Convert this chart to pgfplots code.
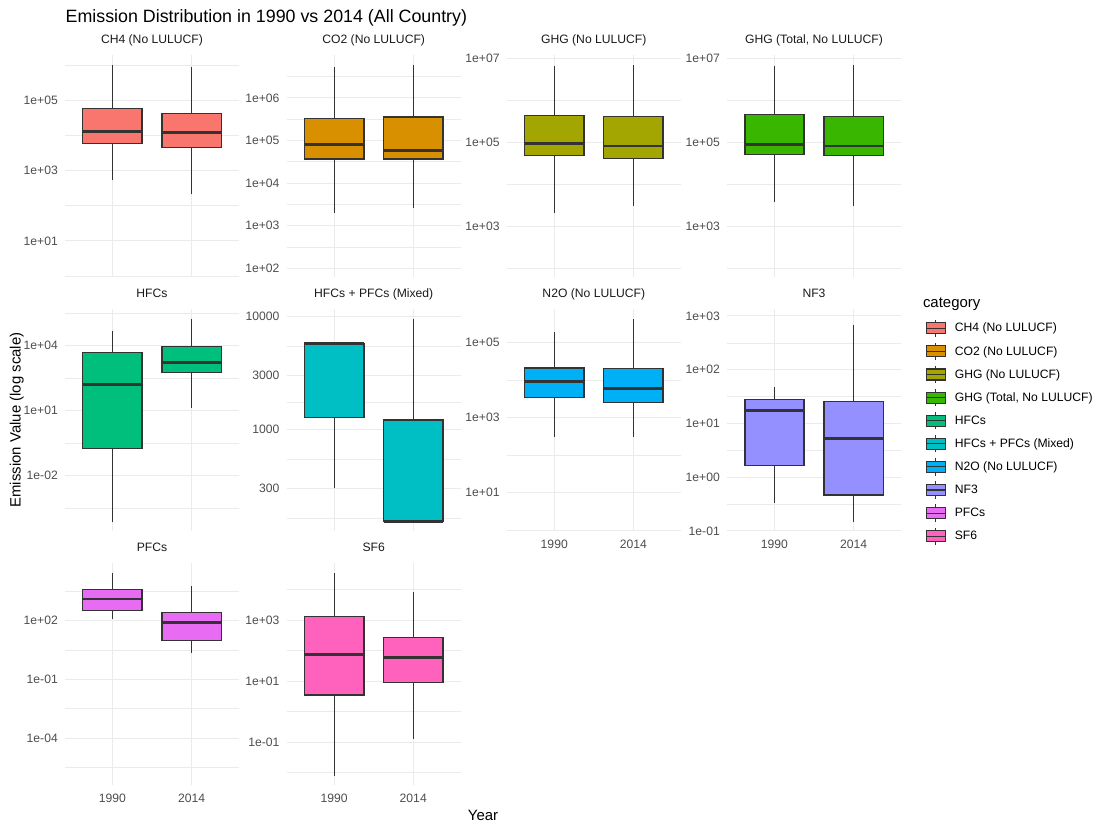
\documentclass[border=0pt]{standalone}
\usepackage{fontspec}
\setmainfont{Liberation Sans}
\usepackage{pgfplots}
\pgfplotsset{compat=1.18}
\usepgfplotslibrary{statistics}

\definecolor{cCH4}{HTML}{F8766D}
\definecolor{cCO2}{HTML}{D89000}
\definecolor{cGHG}{HTML}{A3A500}
\definecolor{cGHGT}{HTML}{39B600}
\definecolor{cHFC}{HTML}{00BF7D}
\definecolor{cMix}{HTML}{00BFC4}
\definecolor{cN2O}{HTML}{00B0F6}
\definecolor{cNF3}{HTML}{9590FF}
\definecolor{cPFC}{HTML}{E76BF3}
\definecolor{cSF6}{HTML}{FF62BC}
\definecolor{cBox}{HTML}{333333}
\definecolor{cGrid}{HTML}{EBEBEB}
\definecolor{cTick}{HTML}{4D4D4D}
\definecolor{cStrip}{HTML}{1A1A1A}

\newcommand{\tickfont}{\fontsize{12.2}{14}\selectfont}

\pgfplotsset{
  every axis/.append style={
    width=174bp, height=222bp, scale only axis,
    xmin=0.4, xmax=2.6,
    xtick={1,2},
    xmajorgrids, ymajorgrids, yminorgrids,
    major grid style={line width=1bp, color=cGrid},
    minor grid style={line width=0.6bp, color=cGrid},
    major tick length=0pt, minor tick length=0pt,
    axis line style={draw=none},
    yticklabel style={font=\tickfont, text=cTick, inner sep=0pt, anchor=east, xshift=-7bp},
    xticklabel style={font=\tickfont, text=cTick, inner sep=0pt, anchor=north, yshift=-9bp},
    title style={at={(0.5,1)}, anchor=base, yshift=6bp, inner sep=0pt, font=\tickfont, text=cStrip},
  },
  myBoxKey/.style={legend image code/.code={
    \path[draw=none, fill=none] (0bp,-11.55bp) rectangle (28.3bp,11.55bp);
    \draw[draw=cBox, line width=1.1bp] (9.35bp,-8.65bp) -- (9.35bp,8.65bp);
    \draw[draw=cBox, fill=#1, line width=1.1bp] (0bp,-5.5bp) rectangle (18.7bp,5.5bp);
    \draw[draw=cBox, line width=1.1bp] (0bp,0bp) -- (18.7bp,0bp);
  }},
}

\begin{document}
\begin{tikzpicture}
\useasboundingbox (0,0) rectangle (1100bp,831bp);

% ---------- Row 1 ----------
\begin{axis}[ymode=log, anchor=south west, at={(65bp,554bp)}, title={CH4 (No LULUCF)},
  xticklabels={{},{}},
  ymin=0.933, ymax=1.995e6,
  ytick={10,1000,100000}, yticklabels={1e+01,1e+03,1e+05},
  minor ytick={1,100,10000,1000000}]
\addplot[forget plot, draw=cBox, line width=1.4bp, fill=cCH4, boxplot/every median/.style={line width=2.8bp}, boxplot/every whisker/.style={line width=1.1bp}, boxplot prepared={draw direction=y, box extend=0.75, whisker extend=0, draw position=1, lower whisker=537, lower quartile=5888, median=13183, upper quartile=58884, upper whisker=1047000}] coordinates {};
\addplot[forget plot, draw=cBox, line width=1.4bp, fill=cCH4, boxplot/every median/.style={line width=2.8bp}, boxplot/every whisker/.style={line width=1.1bp}, boxplot prepared={draw direction=y, box extend=0.75, whisker extend=0, draw position=2, lower whisker=214, lower quartile=4677, median=12023, upper quartile=43652, upper whisker=891251}] coordinates {};
\end{axis}

\begin{axis}[ymode=log, anchor=south west, at={(286.7bp,554bp)}, title={CO2 (No LULUCF)},
  xticklabels={{},{}},
  ymin=61.7, ymax=1.023e7,
  ytick={100,1000,10000,100000,1000000}, yticklabels={1e+02,1e+03,1e+04,1e+05,1e+06},
  minor ytick={316.2,3162,31623,316228,3162278}]
\addplot[forget plot, draw=cBox, line width=1.4bp, fill=cCO2, boxplot/every median/.style={line width=2.8bp}, boxplot/every whisker/.style={line width=1.1bp}, boxplot prepared={draw direction=y, box extend=0.75, whisker extend=0, draw position=1, lower whisker=1995, lower quartile=36308, median=79433, upper quartile=331131, upper whisker=5248000}] coordinates {};
\addplot[forget plot, draw=cBox, line width=1.4bp, fill=cCO2, boxplot/every median/.style={line width=2.8bp}, boxplot/every whisker/.style={line width=1.1bp}, boxplot prepared={draw direction=y, box extend=0.75, whisker extend=0, draw position=2, lower whisker=2570, lower quartile=36308, median=57544, upper quartile=354813, upper whisker=6026000}] coordinates {};
\end{axis}

\begin{axis}[ymode=log, anchor=south west, at={(506.8bp,554bp)}, title={GHG (No LULUCF)},
  xticklabels={{},{}},
  ymin=63.1, ymax=1.23e7,
  ytick={1000,100000,10000000}, yticklabels={1e+03,1e+05,1e+07},
  minor ytick={100,10000,1000000}]
\addplot[forget plot, draw=cBox, line width=1.4bp, fill=cGHG, boxplot/every median/.style={line width=2.8bp}, boxplot/every whisker/.style={line width=1.1bp}, boxplot prepared={draw direction=y, box extend=0.75, whisker extend=0, draw position=1, lower whisker=2138, lower quartile=50119, median=97724, upper quartile=446684, upper whisker=6761000}] coordinates {};
\addplot[forget plot, draw=cBox, line width=1.4bp, fill=cGHG, boxplot/every median/.style={line width=2.8bp}, boxplot/every whisker/.style={line width=1.1bp}, boxplot prepared={draw direction=y, box extend=0.75, whisker extend=0, draw position=2, lower whisker=3162, lower quartile=42658, median=83176, upper quartile=426580, upper whisker=7079000}] coordinates {};
\end{axis}

\begin{axis}[ymode=log, anchor=south west, at={(727bp,554bp)}, title={GHG (Total, No LULUCF)},
  xticklabels={{},{}},
  ymin=63.1, ymax=1.23e7,
  ytick={1000,100000,10000000}, yticklabels={1e+03,1e+05,1e+07},
  minor ytick={100,10000,1000000}]
\addplot[forget plot, draw=cBox, line width=1.4bp, fill=cGHGT, boxplot/every median/.style={line width=2.8bp}, boxplot/every whisker/.style={line width=1.1bp}, boxplot prepared={draw direction=y, box extend=0.75, whisker extend=0, draw position=1, lower whisker=3890, lower quartile=52481, median=89125, upper quartile=467735, upper whisker=6761000}] coordinates {};
\addplot[forget plot, draw=cBox, line width=1.4bp, fill=cGHGT, boxplot/every median/.style={line width=2.8bp}, boxplot/every whisker/.style={line width=1.1bp}, boxplot prepared={draw direction=y, box extend=0.75, whisker extend=0, draw position=2, lower whisker=3162, lower quartile=50119, median=83176, upper quartile=426580, upper whisker=7079000}] coordinates {};
\end{axis}

% ---------- Row 2 ----------
\begin{axis}[ymode=log, anchor=south west, at={(65bp,300bp)}, title={HFCs},
  xticklabels={{},{}},
  ymin=2.82e-5, ymax=4.9e5,
  ytick={0.01,10,10000}, yticklabels={1e-02,1e+01,1e+04},
  minor ytick={3.162e-4,0.3162,316.2,316228}]
\addplot[forget plot, draw=cBox, line width=1.4bp, fill=cHFC, boxplot/every median/.style={line width=2.8bp}, boxplot/every whisker/.style={line width=1.1bp}, boxplot prepared={draw direction=y, box extend=0.75, whisker extend=0, draw position=1, lower whisker=7.59e-5, lower quartile=0.182, median=158.5, upper quartile=4898, upper whisker=47863}] coordinates {};
\addplot[forget plot, draw=cBox, line width=1.4bp, fill=cHFC, boxplot/every median/.style={line width=2.8bp}, boxplot/every whisker/.style={line width=1.1bp}, boxplot prepared={draw direction=y, box extend=0.75, whisker extend=0, draw position=2, lower whisker=13.8, lower quartile=589, median=1622, upper quartile=9333, upper whisker=169824}] coordinates {};
\end{axis}

\begin{axis}[ymode=log, anchor=south west, at={(286.7bp,300bp)}, title={HFCs + PFCs (Mixed)},
  xticklabels={{},{}},
  ymin=127, ymax=11700,
  ytick={300,1000,3000,10000}, yticklabels={300,1000,3000,10000},
  minor ytick={164.3,547.7,1732,5477}]
\addplot[forget plot, draw=cBox, line width=1.4bp, fill=cMix, boxplot/every median/.style={line width=2.8bp}, boxplot/every whisker/.style={line width=1.1bp}, boxplot prepared={draw direction=y, box extend=0.75, whisker extend=0, draw position=1, lower whisker=302, lower quartile=1288, median=5754, upper quartile=5754, upper whisker=5754}] coordinates {};
\addplot[forget plot, draw=cBox, line width=1.4bp, fill=cMix, boxplot/every median/.style={line width=2.8bp}, boxplot/every whisker/.style={line width=1.1bp}, boxplot prepared={draw direction=y, box extend=0.75, whisker extend=0, draw position=2, lower whisker=155, lower quartile=155, median=155, upper quartile=1216, upper whisker=9550}] coordinates {};
\end{axis}

\begin{axis}[ymode=log, anchor=south west, at={(506.8bp,300bp)}, title={N2O (No LULUCF)},
  xticklabels={1990,2014},
  ymin=0.933, ymax=7.76e5,
  ytick={10,1000,100000}, yticklabels={1e+01,1e+03,1e+05},
  minor ytick={1,100,10000}]
\addplot[forget plot, draw=cBox, line width=1.4bp, fill=cN2O, boxplot/every median/.style={line width=2.8bp}, boxplot/every whisker/.style={line width=1.1bp}, boxplot prepared={draw direction=y, box extend=0.75, whisker extend=0, draw position=1, lower whisker=302, lower quartile=3388, median=8913, upper quartile=20893, upper whisker=186209}] coordinates {};
\addplot[forget plot, draw=cBox, line width=1.4bp, fill=cN2O, boxplot/every median/.style={line width=2.8bp}, boxplot/every whisker/.style={line width=1.1bp}, boxplot prepared={draw direction=y, box extend=0.75, whisker extend=0, draw position=2, lower whisker=302, lower quartile=2512, median=5888, upper quartile=19953, upper whisker=416869}] coordinates {};
\end{axis}

\begin{axis}[ymode=log, anchor=south west, at={(727bp,300bp)}, title={NF3},
  xticklabels={1990,2014},
  ymin=0.0995, ymax=1349,
  ytick={0.1,1,10,100,1000}, yticklabels={1e-01,1e+00,1e+01,1e+02,1e+03},
  minor ytick={0.3162,3.162,31.62,316.2},
  legend style={draw=none, fill=none, inner sep=0pt, outer sep=0pt,
    at={(1.1437,0.965)}, anchor=north west, row sep=0pt,
    font=\tickfont, text=black,
    nodes={inner sep=0pt}},
  legend cell align=left]
\addplot[forget plot, draw=cBox, line width=1.4bp, fill=cNF3, boxplot/every median/.style={line width=2.8bp}, boxplot/every whisker/.style={line width=1.1bp}, boxplot prepared={draw direction=y, box extend=0.75, whisker extend=0, draw position=1, lower whisker=0.324, lower quartile=1.66, median=17.4, upper quartile=28.2, upper whisker=47.9}] coordinates {};
\addplot[forget plot, draw=cBox, line width=1.4bp, fill=cNF3, boxplot/every median/.style={line width=2.8bp}, boxplot/every whisker/.style={line width=1.1bp}, boxplot prepared={draw direction=y, box extend=0.75, whisker extend=0, draw position=2, lower whisker=0.148, lower quartile=0.468, median=5.25, upper quartile=25.7, upper whisker=676}] coordinates {};
\addlegendimage{myBoxKey=cCH4}\addlegendentry{CH4 (No LULUCF)}
\addlegendimage{myBoxKey=cCO2}\addlegendentry{CO2 (No LULUCF)}
\addlegendimage{myBoxKey=cGHG}\addlegendentry{GHG (No LULUCF)}
\addlegendimage{myBoxKey=cGHGT}\addlegendentry{GHG (Total, No LULUCF)}
\addlegendimage{myBoxKey=cHFC}\addlegendentry{HFCs}
\addlegendimage{myBoxKey=cMix}\addlegendentry{HFCs + PFCs (Mixed)}
\addlegendimage{myBoxKey=cN2O}\addlegendentry{N2O (No LULUCF)}
\addlegendimage{myBoxKey=cNF3}\addlegendentry{NF3}
\addlegendimage{myBoxKey=cPFC}\addlegendentry{PFCs}
\addlegendimage{myBoxKey=cSF6}\addlegendentry{SF6}
\end{axis}

% ---------- Row 3 ----------
\begin{axis}[ymode=log, anchor=south west, at={(65bp,46bp)}, title={PFCs},
  xticklabels={1990,2014},
  ymin=3.98e-7, ymax=89125,
  ytick={0.0001,0.1,100}, yticklabels={1e-04,1e-01,1e+02},
  minor ytick={3.162e-6,3.162e-3,3.162,3162}]
\addplot[forget plot, draw=cBox, line width=1.4bp, fill=cPFC, boxplot/every median/.style={line width=2.8bp}, boxplot/every whisker/.style={line width=1.1bp}, boxplot prepared={draw direction=y, box extend=0.75, whisker extend=0, draw position=1, lower whisker=126, lower quartile=339, median=1288, upper quartile=4074, upper whisker=26303}] coordinates {};
\addplot[forget plot, draw=cBox, line width=1.4bp, fill=cPFC, boxplot/every median/.style={line width=2.8bp}, boxplot/every whisker/.style={line width=1.1bp}, boxplot prepared={draw direction=y, box extend=0.75, whisker extend=0, draw position=2, lower whisker=2.29, lower quartile=9.77, median=79.4, upper quartile=269, upper whisker=5754}] coordinates {};
\end{axis}

\begin{axis}[ymode=log, anchor=south west, at={(286.7bp,46bp)}, title={SF6},
  xticklabels={1990,2014},
  ymin=3.89e-3, ymax=75860,
  ytick={0.1,10,1000}, yticklabels={1e-01,1e+01,1e+03},
  minor ytick={0.01,1,100,10000}]
\addplot[forget plot, draw=cBox, line width=1.4bp, fill=cSF6, boxplot/every median/.style={line width=2.8bp}, boxplot/every whisker/.style={line width=1.1bp}, boxplot prepared={draw direction=y, box extend=0.75, whisker extend=0, draw position=1, lower whisker=0.00776, lower quartile=3.47, median=74.1, upper quartile=1318, upper whisker=35481}] coordinates {};
\addplot[forget plot, draw=cBox, line width=1.4bp, fill=cSF6, boxplot/every median/.style={line width=2.8bp}, boxplot/every whisker/.style={line width=1.1bp}, boxplot prepared={draw direction=y, box extend=0.75, whisker extend=0, draw position=2, lower whisker=0.126, lower quartile=8.91, median=60.3, upper quartile=269, upper whisker=8511}] coordinates {};
\end{axis}

% ---------- Titles ----------
\node[anchor=base west, inner sep=0pt, font=\fontsize{17.9}{21}\selectfont] at (65.5bp,808.7bp) {Emission Distribution in 1990 vs 2014 (All Country)};
\node[anchor=base, inner sep=0pt, font=\fontsize{15}{18}\selectfont] at (483bp,10.3bp) {Year};
\node[anchor=base, rotate=90, inner sep=0pt, font=\fontsize{15}{18}\selectfont] at (20.7bp,411bp) {Emission Value (log scale)};
\node[anchor=base west, inner sep=0pt, font=\fontsize{15}{18}\selectfont] at (922.8bp,523.7bp) {category};
\end{tikzpicture}
\end{document}
